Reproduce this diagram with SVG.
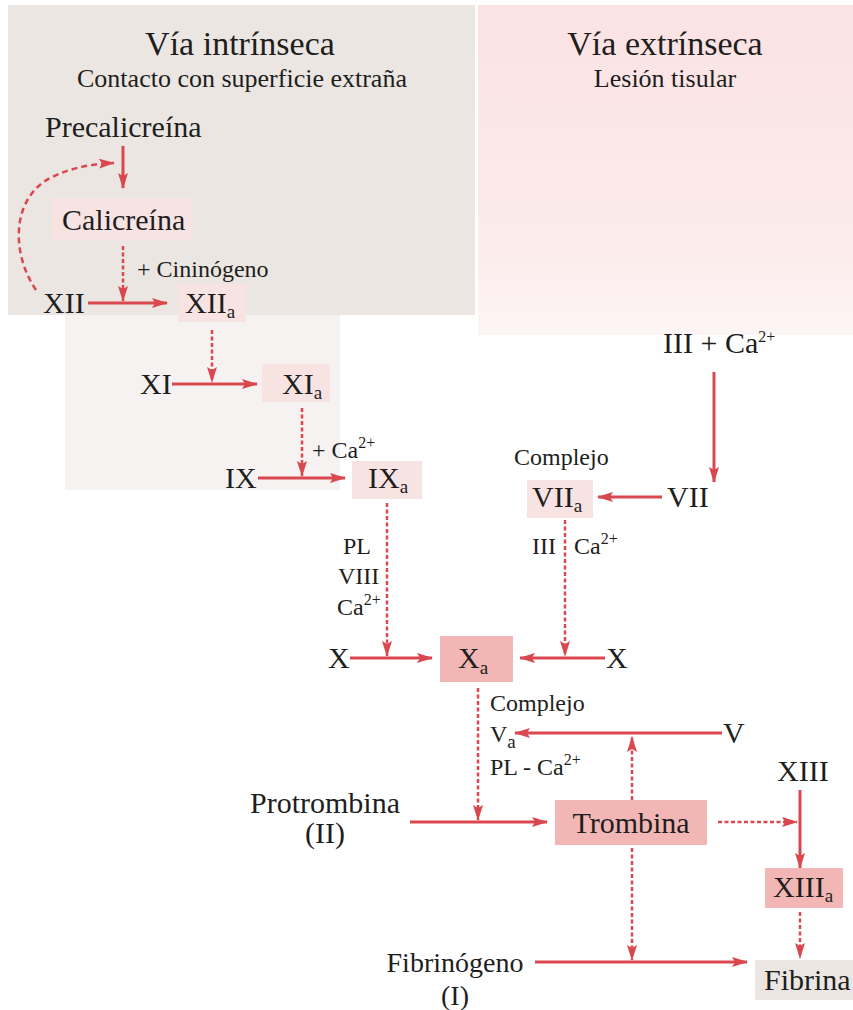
<svg xmlns="http://www.w3.org/2000/svg" width="853" height="1010" viewBox="0 0 853 1010" font-family="'Liberation Serif', 'Times New Roman', Times, serif">
<defs>
<marker id="ah" viewBox="0 0 16 10" refX="15" refY="5" markerWidth="16" markerHeight="10" markerUnits="userSpaceOnUse" orient="auto">
<path d="M0,0 L16,5 L0,10 L3,5 Z" fill="#d9474f"/>
</marker>
<linearGradient id="pinkfade" x1="0" y1="0" x2="0" y2="1">
<stop offset="0" stop-color="#fbe2e3"/>
<stop offset="0.75" stop-color="#fcecec"/>
<stop offset="1" stop-color="#fdf5f5"/>
</linearGradient>
</defs>
<style>
text{font-family:'Liberation Serif','Times New Roman',Times,serif;fill:#1e1e1e;}
.t1{font-size:34px;}
.t2{font-size:26px;}
.n{font-size:30px;}
.f{font-size:28px;}
.s{font-size:24px;}
.sub{font-size:19px;}
.sup{font-size:16px;}
.sol{stroke:#d9474f;stroke-width:3;fill:none;marker-end:url(#ah);}
.dash{stroke:#d9474f;stroke-width:2.5;fill:none;stroke-dasharray:4 2.5;marker-end:url(#ah);}
.curve{stroke:#d9474f;stroke-width:2.5;fill:none;stroke-dasharray:6 4;marker-end:url(#ah);}
.lp{fill:#f8e3e3;}
.sp{fill:#f2b6b5;}
</style>
<rect width="853" height="1010" fill="#ffffff"/>
<rect x="8" y="5" width="467" height="310" fill="#ebe6e1"/>
<rect x="65" y="315" width="275" height="175" fill="#f6f2f1"/>
<rect x="478" y="5" width="375" height="330" fill="url(#pinkfade)"/>

<g id="headers">
<text class="t1" x="240" y="55" text-anchor="middle">Vía intrínseca</text>
<text class="t2" x="242" y="87" text-anchor="middle">Contacto con superficie extraña</text>
<text class="t1" x="665" y="55" text-anchor="middle">Vía extrínseca</text>
<text class="t2" x="665" y="87" text-anchor="middle">Lesión tisular</text>
</g>

<g id="connectors">
<line class="sol" x1="123" y1="146" x2="123" y2="188"/>
<path class="curve" d="M36,290 C12,255 10,200 50,178 C70,168 90,164 114,163"/>
<line class="dash" x1="123" y1="246" x2="123" y2="301"/>
<line class="sol" x1="88" y1="303" x2="167" y2="303"/>
<line class="dash" x1="212" y1="330" x2="212" y2="382"/>
<line class="sol" x1="172" y1="384" x2="257" y2="384"/>
<line class="dash" x1="302" y1="408" x2="302" y2="476"/>
<line class="sol" x1="258" y1="478" x2="345" y2="478"/>
<line class="sol" x1="714" y1="372" x2="714" y2="482"/>
<line class="sol" x1="662" y1="497" x2="598" y2="497"/>
<line class="dash" x1="387" y1="503" x2="387" y2="656"/>
<line class="dash" x1="565" y1="520" x2="565" y2="656"/>
<line class="sol" x1="350" y1="658" x2="432" y2="658"/>
<line class="sol" x1="605" y1="658" x2="520" y2="658"/>
<line class="dash" x1="478" y1="688" x2="478" y2="820"/>
<line class="sol" x1="722" y1="733" x2="515" y2="733"/>
<line class="dash" x1="632" y1="800" x2="632" y2="737"/>
<line class="sol" x1="410" y1="822" x2="547" y2="822"/>
<line class="dash" x1="718" y1="822" x2="797" y2="822"/>
<line class="sol" x1="800" y1="790" x2="800" y2="868"/>
<line class="dash" x1="800" y1="912" x2="800" y2="958"/>
<line class="dash" x1="632" y1="848" x2="632" y2="960"/>
<line class="sol" x1="535" y1="962" x2="747" y2="962"/>
</g>

<g id="precalicreina"><text class="n" x="45" y="137">Precalicreína</text></g>
<g id="calicreina"><rect class="lp" x="52" y="198" width="140" height="42"/><text class="n" x="62" y="230">Calicreína</text></g>
<g id="cininogeno"><text class="s" x="137" y="277">+ Cininógeno</text></g>
<g id="XII"><text class="n" x="43" y="313">XII</text></g>
<g id="XIIa"><rect class="lp" x="178" y="284" width="68" height="38"/><text class="n" x="185" y="313">XII<tspan class="sub" dy="5">a</tspan></text></g>
<g id="XI"><text class="n" x="140" y="394">XI</text></g>
<g id="XIa"><rect class="lp" x="262" y="364" width="68" height="38"/><text class="n" x="282" y="394">XI<tspan class="sub" dy="5">a</tspan></text></g>
<g id="ca1"><text class="s" x="312" y="458">+ Ca<tspan class="sup" dy="-10">2+</tspan></text></g>
<g id="IX"><text class="n" x="225" y="488">IX</text></g>
<g id="IXa"><rect class="lp" x="352" y="461" width="70" height="38"/><text class="n" x="368" y="488">IX<tspan class="sub" dy="5">a</tspan></text></g>
<g id="III-Ca"><text class="n" x="663" y="353">III + Ca<tspan class="sup" dy="-11">2+</tspan></text></g>
<g id="complejo1"><text class="s" x="514" y="465">Complejo</text></g>
<g id="VIIa"><rect class="lp" x="527" y="480" width="66" height="38"/><text class="n" x="532" y="507">VII<tspan class="sub" dy="5">a</tspan></text></g>
<g id="VII"><text class="n" x="667" y="507">VII</text></g>
<g id="cofactors-IX"><text class="s" x="343" y="554">PL</text><text class="s" x="338" y="584">VIII</text><text class="s" x="337" y="615">Ca<tspan class="sup" dy="-10">2+</tspan></text></g>
<g id="cofactors-VII"><text class="s" x="532" y="554">III</text><text class="s" x="574" y="554">Ca<tspan class="sup" dy="-10">2+</tspan></text></g>
<g id="X-left"><text class="n" x="328" y="668">X</text></g>
<g id="Xa"><rect class="sp" x="440" y="636" width="73" height="46"/><text class="n" x="458" y="668">X<tspan class="sub" dy="6">a</tspan></text></g>
<g id="X-right"><text class="n" x="606" y="668">X</text></g>
<g id="complejo2"><text class="s" x="490" y="711">Complejo</text><text class="s" x="490" y="742">V<tspan class="sub" dy="6">a</tspan></text><text class="s" x="490" y="775">PL - Ca<tspan class="sup" dy="-10">2+</tspan></text></g>
<g id="V"><text class="n" x="723" y="743">V</text></g>
<g id="protrombina"><text class="n" x="325" y="813" text-anchor="middle">Protrombina</text><text class="n" x="325" y="843" text-anchor="middle">(II)</text></g>
<g id="trombina"><rect class="sp" x="555" y="800" width="152" height="45"/><text class="n" x="631" y="833" text-anchor="middle">Trombina</text></g>
<g id="XIII"><text class="n" x="777" y="781">XIII</text></g>
<g id="XIIIa"><rect class="sp" x="765" y="868" width="78" height="40"/><text class="n" x="773" y="897">XIII<tspan class="sub" dy="5">a</tspan></text></g>
<g id="fibrinogeno"><text class="f" x="455" y="972" text-anchor="middle">Fibrinógeno</text><text class="f" x="455" y="1005" text-anchor="middle">(I)</text></g>
<g id="fibrina"><rect x="755" y="960" width="98" height="40" fill="#ebe6e1"/><text class="n" x="764" y="990">Fibrina</text></g>
</svg>
